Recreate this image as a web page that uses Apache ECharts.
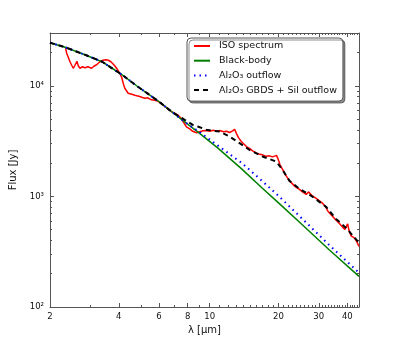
<!DOCTYPE html>
<html>
<head>
<meta charset="utf-8">
<title>ISO spectrum</title>
<script src="https://cdn.jsdelivr.net/npm/echarts@6/dist/echarts.min.js"></script>
<style>
  html, body { margin: 0; padding: 0; background: #fff; }
  #chart { width: 399px; height: 342px; }
</style>
</head>
<body>
<div id="chart"></div>
<script>
// values (wavelength in micron, flux in Jy)
var waveISO = [2.337, 2.366, 2.409, 2.446, 2.495, 2.528, 2.572, 2.624, 2.658, 2.704, 2.773, 2.843, 2.930, 3.042, 3.112, 3.198,
  3.306, 3.407, 3.511, 3.601, 3.693, 3.806, 3.911, 4.002, 4.112, 4.188, 4.251, 4.395, 4.561, 4.701, 4.893, 5.042, 5.197,
  5.356, 5.559, 5.747, 5.941, 6.166, 6.355, 6.550, 6.801, 7.031, 7.269, 7.469, 7.643, 7.908, 8.176, 8.427, 8.745, 9.037,
  9.361, 9.668, 9.993, 10.35, 10.72, 11.05, 11.50, 11.86, 12.22, 12.59, 12.85, 13.11, 13.38, 13.75, 14.07, 14.46, 14.94,
  15.40, 15.98, 16.52, 17.03, 17.67, 18.27, 18.83, 19.21, 19.60, 19.86, 20.31, 20.89, 21.46, 22.34, 23.02, 23.73, 24.70,
  25.46, 26.43, 27.04, 27.59, 28.15, 29.22, 30.20, 31.22, 32.08, 32.84, 33.74, 34.52, 35.48, 36.19, 36.93, 38.06, 39.03,
  39.62, 40.14, 40.64, 41.55, 42.30, 42.95, 43.82, 45.0];
var fluxISO = [22300, 19690, 17930, 16490, 15170, 14400, 15330, 16660, 15170, 14400, 14860, 14550, 14860, 14400, 15010, 15490,
  16490, 17010, 17190, 17010, 16490, 15490, 14400, 13390, 12060, 10420, 9493, 8554, 8378, 8204, 8035, 7869, 7707,
  7787, 7469, 7392, 7239, 6872, 6496, 6257, 5818, 5640, 5410, 5133, 4753, 4256, 4083, 3876, 3756, 3835,
  3916, 3940, 3876, 3956, 3876, 3940, 3835, 3876, 3780, 3916, 4041, 3678, 3383, 3133, 2986, 2823, 2719,
  2581, 2476, 2399, 2375, 2301, 2325, 2277, 2325, 2350, 2208, 1928, 1737, 1565, 1381, 1298, 1219, 1157,
  1098, 1042, 1098, 1087, 1010, 959, 911, 864, 812, 739, 694, 659, 619, 594, 570, 530, 503,
  519, 564, 498, 439, 453, 421, 396, 352];

var waveBB = [2.00, 2.33, 2.84, 3.38, 4.13, 4.85, 5.93, 6.82, 7.77, 8.86, 10.83, 13.79, 17.0, 20.0, 25.0, 33.4, 45.0];
var fluxBB = [24500, 22300, 19100, 16500, 12580, 9800, 7320, 5820, 4720, 3835, 2748, 1774, 1186, 873, 572, 328, 189];

var waveAl = [2.00, 2.33, 2.84, 3.38, 4.13, 4.85, 5.93, 6.82, 7.77, 8.86, 10.83, 13.79, 17.0, 20.0, 25.0, 33.4, 45.0];
var fluxAl = [24500, 22300, 19100, 16500, 12580, 9800, 7320, 5820, 4720, 3915, 2894, 2010, 1372, 1010, 648, 362, 204];

var waveGBDS = [2.00, 2.33, 2.84, 3.38, 4.13, 4.85, 5.93, 6.82, 7.77, 8.43, 8.86, 9.67, 11.05, 12.22, 13.51, 14.94, 17.03,
  19.55, 20.83, 22.34, 24.7, 28.15, 32.3, 35.7, 39.5, 45.0];
var fluxGBDS = [24500, 22300, 19100, 16500, 12580, 9800, 7320, 5820, 4923, 4436, 4282, 3999, 3857, 3477, 3030, 2635, 2293,
  2065, 1738, 1381, 1169, 996, 804, 626, 519, 380];

var xMajorTicks = [2, 4, 6, 8, 10, 20, 30, 40];
var xMinorTicks = [3, 5, 7, 9, 11, 12, 13, 14, 15, 16, 17, 18, 19, 21, 22, 23, 24, 25, 26, 27, 28, 29,
  31, 32, 33, 34, 35, 36, 37, 38, 39, 41, 42, 43, 44];
var yMajorTicks = [100, 1000, 10000];
var yMinorTicks = [200, 300, 400, 500, 600, 700, 800, 900, 2000, 3000, 4000, 5000, 6000, 7000, 8000, 9000, 20000, 30000];

var xRange = [2, 45];
var yRange = [100, 30000];

function lg(v) { return Math.log10(v); }
function pairs(xs, ys) {
  return xs.map(function (x, i) { return [lg(x), lg(ys[i])]; });
}

var sup = { '2': '\u00b2', '3': '\u00b3', '4': '\u2074' };
var frame = '#555';
var font = 'DejaVu Sans';

function xAxisDef(pos, ticks, len, withLabel, withLine) {
  return {
    type: 'value', position: pos,
    min: lg(xRange[0]), max: lg(xRange[1]),
    splitLine: { show: false },
    axisLine: { show: withLine, lineStyle: { color: frame, width: 1 } },
    axisTick: { show: true, inside: true, length: len, customValues: ticks.map(lg),
      lineStyle: { color: frame, width: 1 } },
    axisLabel: withLabel ? {
      show: true, customValues: ticks.map(lg), margin: 5,
      fontFamily: font, fontSize: 8.5, color: '#111',
      formatter: function (v) { return String(Math.round(Math.pow(10, v))); }
    } : { show: false }
  };
}
function yAxisDef(pos, ticks, len, withLabel, withLine) {
  return {
    type: 'value', position: pos,
    min: lg(yRange[0]), max: lg(yRange[1]),
    splitLine: { show: false },
    axisLine: { show: withLine, lineStyle: { color: frame, width: 1 } },
    axisTick: { show: true, inside: true, length: len, customValues: ticks.map(lg),
      lineStyle: { color: frame, width: 1 } },
    axisLabel: withLabel ? {
      show: true, customValues: ticks.map(lg), margin: 6,
      fontFamily: font, fontSize: 8.5, color: '#111',
      formatter: function (v) { return '10' + sup[String(Math.round(v))]; }
    } : { show: false }
  };
}

var xAxes = [
  xAxisDef('bottom', xMajorTicks, 4, true, true),
  xAxisDef('bottom', xMinorTicks, 2, false, false),
  xAxisDef('top', xMajorTicks, 4, false, true),
  xAxisDef('top', xMinorTicks, 2, false, false)
];
xAxes[0].name = '\u03bb [\u03bcm]';
xAxes[0].nameLocation = 'middle';
xAxes[0].nameGap = 17;
xAxes[0].nameTextStyle = { fontFamily: font, fontSize: 10, color: '#111' };

var yAxes = [
  yAxisDef('left', yMajorTicks, 4, true, true),
  yAxisDef('left', yMinorTicks, 2, false, false),
  yAxisDef('right', yMajorTicks, 4, false, true),
  yAxisDef('right', yMinorTicks, 2, false, false)
];
yAxes[0].name = 'Flux [Jy]';
yAxes[0].nameLocation = 'middle';
yAxes[0].nameGap = 29;
yAxes[0].nameTextStyle = { fontFamily: font, fontSize: 10, color: '#111' };

function lineSeries(name, xs, ys, color, width, type) {
  return {
    name: name, type: 'line', xAxisIndex: 0, yAxisIndex: 0,
    data: pairs(xs, ys), showSymbol: false, symbol: 'none',
    lineStyle: { color: color, width: width, type: type },
    itemStyle: { color: color },
    clip: true, silent: true
  };
}

var chart = echarts.init(document.getElementById('chart'));
chart.setOption({
  animation: false,
  grid: { left: 50, top: 33, right: 40, bottom: 35 },
  xAxis: xAxes,
  yAxis: yAxes,
  legend: {
    orient: 'vertical', left: 187, top: 38,
    itemWidth: 16, itemHeight: 10, itemGap: 4.7,
    padding: [3, 6, 6, 6],
    backgroundColor: '#fff', borderColor: frame, borderWidth: 1, borderRadius: 4,
    shadowColor: 'rgba(0,0,0,0.45)', shadowBlur: 0, shadowOffsetX: 2, shadowOffsetY: 2,
    itemStyle: { opacity: 0 },
    textStyle: { fontFamily: font, fontSize: 9.5, color: '#111', padding: [0, 0, 0, 4] },
    selectedMode: false
  },
  series: [
    lineSeries('ISO spectrum', waveISO, fluxISO, '#ff0000', 1.5, 'solid'),
    lineSeries('Black-body', waveBB, fluxBB, '#008000', 1.5, 'solid'),
    lineSeries('Al\u2082O\u2083 outflow', waveAl, fluxAl, '#0000ff', 2, [1.5, 4]),
    lineSeries('Al\u2082O\u2083 GBDS + Sil outflow', waveGBDS, fluxGBDS, '#000000', 2, [5, 4])
  ]
});
</script>
</body>
</html>
